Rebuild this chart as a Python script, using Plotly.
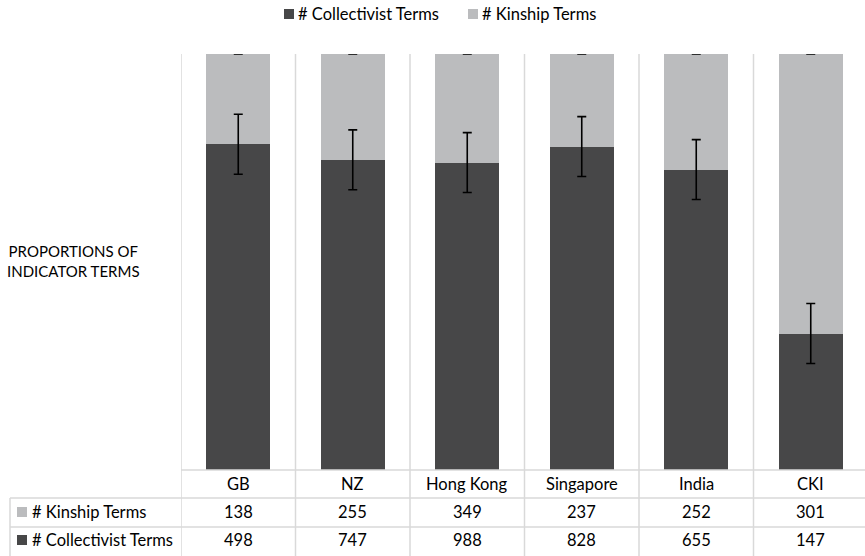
import plotly.graph_objects as go

# Country groups and term counts
categories = ["GB", "NZ", "Hong Kong", "Singapore", "India", "CKI"]
kinship_terms = [138, 255, 349, 237, 252, 301]
collectivist_terms = [498, 747, 988, 828, 655, 147]
collectivist_err = [0.072, 0.072, 0.072, 0.072, 0.072, 0.072]
kinship_err = [0, 0, 0, 0, 0, 0]

DARK = "#474748"
LIGHT = "#bbbcbe"
GRID = "#d9d9d9"
FONT = "Lato"
FS = 16.5

totals = [c + k for c, k in zip(collectivist_terms, kinship_terms)]
coll_share = [c / t for c, t in zip(collectivist_terms, totals)]
kin_share = [k / t for k, t in zip(kinship_terms, totals)]
top_share = [c + k for c, k in zip(coll_share, kin_share)]
xs = list(range(len(categories)))

W, H = 865, 556
L, T, B = 181, 54, 86
plot_h = H - T - B
plot_w = W - L
cat_px = 114.5

fig = go.Figure()
fig.add_trace(go.Bar(
    x=xs, y=coll_share, name="# Collectivist Terms",
    marker=dict(color=DARK, line=dict(width=0)), width=0.56, showlegend=False,
))
fig.add_trace(go.Bar(
    x=xs, y=kin_share, name="# Kinship Terms",
    marker=dict(color=LIGHT, line=dict(width=0)), width=0.56, showlegend=False,
))
# error bars drawn above both stacked segments
err_style = dict(type="data", color="#000000", thickness=1.6, width=4.5)
fig.add_trace(go.Scatter(
    x=xs, y=coll_share, mode="markers", marker=dict(opacity=0, size=1),
    error_y=dict(array=collectivist_err, **err_style),
    showlegend=False, hoverinfo="skip", cliponaxis=False,
))
fig.add_trace(go.Scatter(
    x=xs, y=top_share, mode="markers", marker=dict(opacity=0, size=1),
    error_y=dict(array=kinship_err, **err_style),
    showlegend=False, hoverinfo="skip", cliponaxis=False,
))


def py(pix):
    """paper y for a pixel row measured from the top of the page"""
    return (H - B - pix) / plot_h


def px(pix):
    """paper x for a pixel column measured from the left of the page"""
    return (pix - L) / plot_w


shapes = []
line = dict(color=GRID, width=1.5)
bottom = py(H)
# vertical separators between categories, through the table
for i in range(len(categories) + 1):
    shapes.append(dict(type="line", xref="x", yref="paper",
                       x0=i - 0.5, x1=i - 0.5, y0=1, y1=bottom, line=line))
# table horizontal rules
shapes.append(dict(type="line", xref="paper", yref="paper",
                   x0=0, x1=1, y0=0, y1=0, line=line))
for ry in (498, 527):
    shapes.append(dict(type="line", xref="paper", yref="paper",
                       x0=px(10), x1=1, y0=py(ry), y1=py(ry), line=line))
shapes.append(dict(type="line", xref="paper", yref="paper",
                   x0=px(10), x1=px(10), y0=py(498), y1=bottom, line=line))

annotations = []
txt = dict(size=FS, color="#000")
row_y = {"cat": py(484), "kin": py(512), "coll": py(540)}
for i, name in enumerate(categories):
    for key, val in (("cat", name), ("kin", kinship_terms[i]),
                     ("coll", collectivist_terms[i])):
        annotations.append(dict(x=i, y=row_y[key], xref="x", yref="paper",
                                text=str(val), showarrow=False, font=txt,
                                xanchor="center", yanchor="middle"))

# row headers with colour keys
for key, label, col in (("kin", "# Kinship Terms", LIGHT),
                        ("coll", "# Collectivist Terms", DARK)):
    yc = row_y[key]
    shapes.append(dict(type="rect", xref="paper", yref="paper",
                       x0=px(17), x1=px(27), y0=yc - 5 / plot_h, y1=yc + 5 / plot_h,
                       fillcolor=col, line=dict(width=0)))
    annotations.append(dict(x=px(30), y=yc, xref="paper", yref="paper",
                            text=label, showarrow=False, xanchor="left",
                            yanchor="middle", font=txt))

# legend along the top
legend_y = py(14)
for x_sq, label, col in ((284, "# Collectivist Terms", DARK),
                         (468, "# Kinship Terms", LIGHT)):
    shapes.append(dict(type="rect", xref="paper", yref="paper",
                       x0=px(x_sq), x1=px(x_sq + 10),
                       y0=legend_y - 5 / plot_h, y1=legend_y + 5 / plot_h,
                       fillcolor=col, line=dict(width=0)))
    annotations.append(dict(x=px(x_sq + 12), y=legend_y, xref="paper", yref="paper",
                            text=label, showarrow=False, xanchor="left",
                            yanchor="middle", font=txt))

# axis title
annotations.append(dict(x=px(73), y=py(261), xref="paper", yref="paper",
                        text="PROPORTIONS OF<br>INDICATOR TERMS", showarrow=False,
                        align="center", xanchor="center", yanchor="middle",
                        font=dict(size=15, color="#000")))

fig.update_layout(
    width=W, height=H,
    margin=dict(l=L, r=0, t=T, b=B, pad=0),
    paper_bgcolor="white", plot_bgcolor="white",
    barmode="stack",
    font=dict(family=FONT, size=FS, color="#000"),
    showlegend=False,
    xaxis=dict(range=[-0.5, -0.5 + plot_w / cat_px], showgrid=False,
               showticklabels=False, zeroline=False, showline=False, ticks=""),
    yaxis=dict(range=[0, 1], showgrid=False, showticklabels=False,
               zeroline=False, showline=False, ticks=""),
    shapes=shapes, annotations=annotations,
)

fig.write_html("out.html")
